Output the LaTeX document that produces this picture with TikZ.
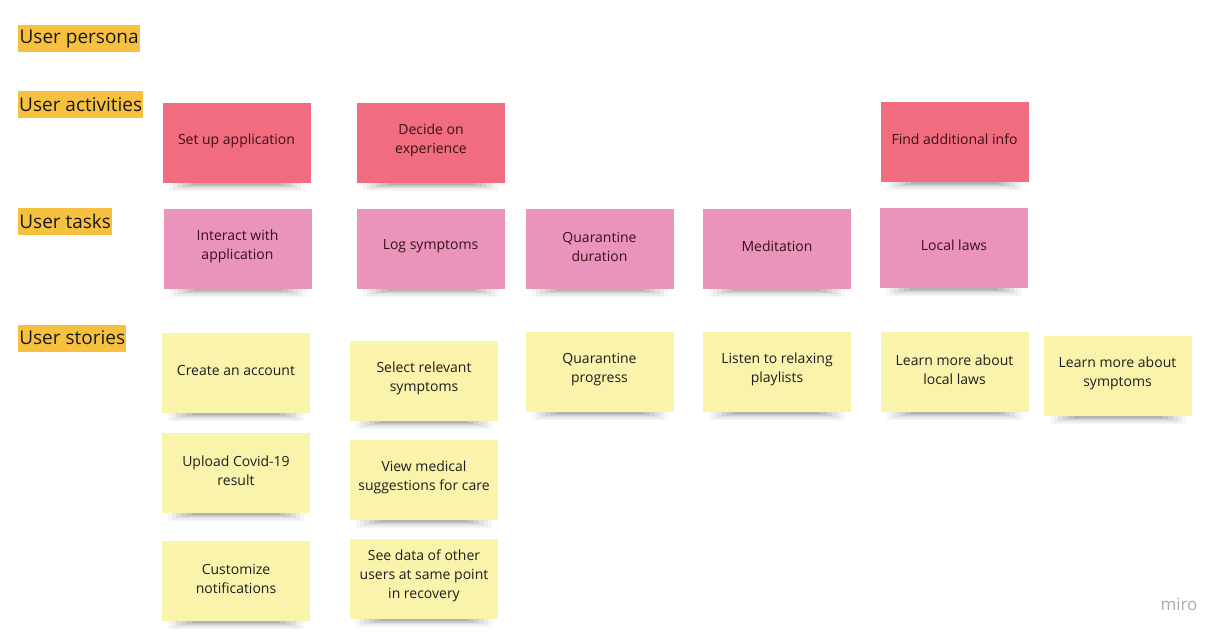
\documentclass[tikz,border=0pt]{standalone}
\usepackage{fontspec}
\setmainfont{Open Sans}
\definecolor{stred}{HTML}{F16C7F}
\definecolor{stpink}{HTML}{EA94BB}
\definecolor{styel}{HTML}{FAF3AC}
\definecolor{hl}{HTML}{F7C140}
\definecolor{txt}{HTML}{1E1E1E}
\definecolor{txtred}{HTML}{3A1118}
\definecolor{mirogray}{HTML}{ABABAB}
\tikzset{
  stickybox/.style={rectangle, minimum width=148pt, minimum height=80pt, inner sep=0pt},
  stickytext/.style={align=center, text=txt, font=\fontsize{14}{19}\selectfont, inner sep=0pt},
  rowlabel/.style={fill=hl, text=black!90, font=\fontsize{19}{22}\selectfont, inner sep=0pt, minimum height=27pt, anchor=west},
}
\newcommand\sticky[6]{%
  \foreach \w/\h/\o in {68/8/0.035, 64/6.5/0.04, 60/5/0.05, 55/4/0.06, 50/3/0.07, 44/2/0.08}{
    \fill[black,opacity=\o] (#2-\w,#3+39) rectangle (#2+\w,#3+40+\h);
  }
  \node[stickybox, fill=#4] (#1) at (#2,#3) {};
  \node[stickytext, text=#5] (#1t) at (#2,#3-2.5) {#6};
}
\begin{document}
\begin{tikzpicture}[x=1pt,y=-1pt]
\useasboundingbox (0,0) rectangle (1231,641);
\fill[white] (0,0) rectangle (1231,641);

\node[rowlabel, minimum width=122pt] (lp) at (18,38.5) {User persona};
\node[rowlabel, minimum width=125pt] (la) at (18,104.5) {User activities};
\node[rowlabel, minimum width=94pt] (lt) at (18,221.5) {User tasks};
\node[rowlabel, minimum width=108pt] (ls) at (18,338) {User stories};

\sticky{a1}{236.5}{143}{stred}{txtred}{Set up application}
\sticky{a2}{431}{142.5}{stred}{txtred}{Decide on\\experience}
\sticky{a3}{954.5}{142}{stred}{txtred}{Find additional info}

\sticky{t1}{237.5}{249}{stpink}{txtred}{Interact with\\application}
\sticky{t2}{430.5}{249}{stpink}{txtred}{Log symptoms}
\sticky{t3}{599.5}{249}{stpink}{txtred}{Quarantine\\duration}
\sticky{t4}{777}{249}{stpink}{txtred}{Meditation}
\sticky{t5}{954}{248}{stpink}{txtred}{Local laws}

\sticky{s1}{236}{373}{styel}{txt}{Create an account}
\sticky{s2}{236}{473}{styel}{txt}{Upload Covid-19\\result}
\sticky{s3}{236}{581}{styel}{txt}{Customize\\notifications}
\sticky{s4}{424}{381}{styel}{txt}{Select relevant\\symptoms}
\sticky{s5}{424}{480}{styel}{txt}{View medical\\suggestions for care}
\sticky{s6}{424}{578.5}{styel}{txt}{See data of other\\users at same point\\in recovery}
\sticky{s7}{599.5}{372}{styel}{txt}{Quarantine\\progress}
\sticky{s8}{777}{372}{styel}{txt}{Listen to relaxing\\playlists}
\sticky{s9}{954.5}{372}{styel}{txt}{Learn more about\\local laws}
\sticky{s10}{1117.5}{376}{styel}{txt}{Learn more about\\symptoms}

\node[text=mirogray, font=\fontsize{17}{20}\selectfont, inner sep=0pt] (miro) at (1179,604) {miro};
\end{tikzpicture}
\end{document}
